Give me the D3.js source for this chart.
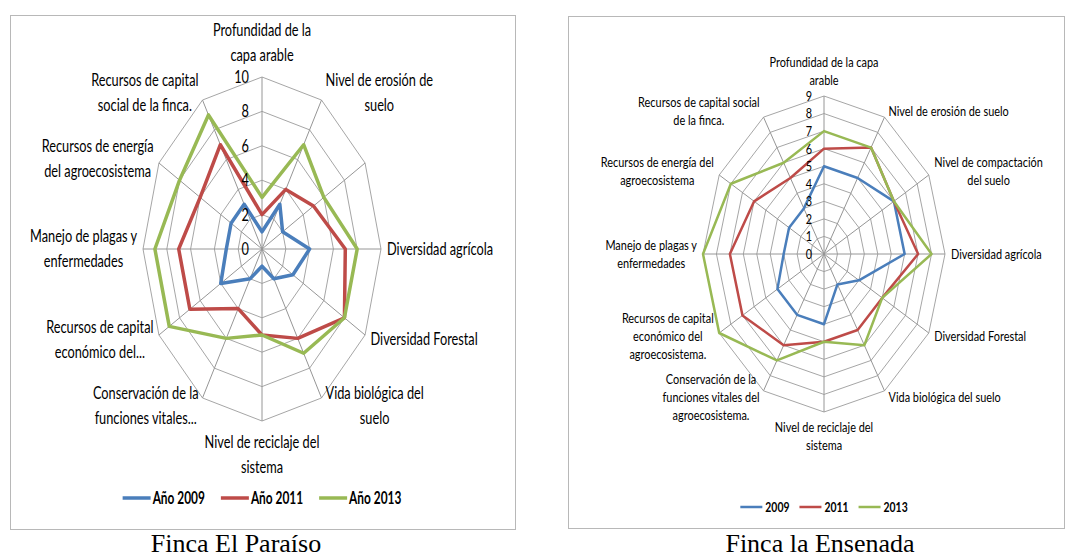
<!DOCTYPE html>
<html>
<head>
<meta charset="utf-8">
<script src="https://cdn.jsdelivr.net/npm/d3@7"></script>
<style>
  body { margin: 0; background: #fff; }
  svg { display: block; }
</style>
</head>
<body>
<script>
var W = 1067, H = 557;

// Finca El Paraíso (3rd axis has no label in the original chart)
var labelsParaiso = [
  "Profundidad de la\ncapa arable", "Nivel de erosión de\nsuelo", "",
  "Diversidad agrícola", "Diversidad Forestal", "Vida biológica del\nsuelo",
  "Nivel de reciclaje del\nsistema", "Conservación de la\nfunciones vitales...",
  "Recursos de capital\neconómico del...", "Manejo de plagas y\nenfermedades",
  "Recursos de energía\ndel agroecosistema", "Recursos de capital\nsocial de la finca."
];
var paraiso2009 = [1, 3, 2, 4, 3, 2, 1, 2, 4, 3, 3, 3];
var paraiso2011 = [2, 4, 5, 7, 8, 6, 5, 4, 7, 7, 6, 7];
var paraiso2013 = [3, 7, 6, 8, 8, 7, 5, 6, 9, 9, 8, 9];
var ticksParaiso = [0, 2, 4, 6, 8, 10];
var legendParaiso = ["Año 2009", "Año 2011", "Año 2013"];

// Finca la Ensenada
var labelsEnsenada = [
  "Profundidad de la capa\narable", "Nivel de erosión de suelo", "Nivel de compactación\ndel suelo",
  "Diversidad agrícola", "Diversidad Forestal", "Vida biológica del suelo",
  "Nivel de reciclaje del\nsistema", "Conservación de la\nfunciones vitales del\nagroecosistema.",
  "Recursos de capital\neconómico del\nagroecosistema.", "Manejo de plagas y\nenfermedades",
  "Recursos de energía del\nagroecosistema", "Recursos de capital social\nde la finca."
];
var ensenada2009 = [5, 5, 6, 6, 3, 2, 4, 4, 4, 3, 3, 3];
var ensenada2011 = [6, 7, 6, 7, 5, 5, 5, 6, 7, 7, 6, 5];
var ensenada2013 = [7, 7, 6, 8, 5, 6, 5, 7, 9, 9, 8, 6];
var ticksEnsenada = [0, 1, 2, 3, 4, 5, 6, 7, 8, 9];
var legendEnsenada = ["2009", "2011", "2013"];

var colors = ["#4a7ebb", "#be4b48", "#98b954"];
var font = "Lato, 'Liberation Sans', sans-serif";

var svg = d3.select("body").append("svg")
    .attr("width", W)
    .attr("height", H)
    .style("font-family", font);

// squeezed text, the original picture is stretched vertically
function txt(g, str, x, y, size, sx, anchor, weight) {
    return g.append("text")
        .attr("transform", "translate(" + x + "," + y + ") scale(" + sx + ",1)")
        .attr("text-anchor", anchor)
        .attr("dy", "0.35em")
        .style("font-size", size + "px")
        .style("font-weight", weight || "normal")
        .attr("fill", "#000")
        .text(str);
}

function radar(o) {
    var g = svg.append("g");
    var n = o.labels.length;

    g.append("rect")
        .attr("x", o.box[0] + 0.5).attr("y", o.box[1] + 0.5)
        .attr("width", o.box[2]).attr("height", o.box[3])
        .attr("fill", "none").attr("stroke", "#b8b8b8");

    var angle = d3.scaleLinear().domain([0, n]).range([0, 2 * Math.PI]);
    var rX = d3.scaleLinear().domain([0, o.max]).range([0, o.rx]);
    var rY = d3.scaleLinear().domain([0, o.max]).range([0, o.ry]);
    function px(i, v) { return o.cx + rX(v) * Math.sin(angle(i)); }
    function py(i, v) { return o.cy - rY(v) * Math.cos(angle(i)); }
    var idx = d3.range(n);

    // rings
    o.rings.forEach(function (r) {
        var ring = d3.line()
            .x(function (i) { return px(i, r); })
            .y(function (i) { return py(i, r); })
            .curve(d3.curveLinearClosed);
        g.append("path").attr("d", ring(idx))
            .attr("fill", "none").attr("stroke", "#a6a6a6").attr("stroke-width", 1);
    });

    // spokes
    g.selectAll(".spoke").data(idx).enter().append("line")
        .attr("x1", o.cx).attr("y1", o.cy)
        .attr("x2", function (i) { return px(i, o.max); })
        .attr("y2", function (i) { return py(i, o.max); })
        .attr("stroke", "#969696").attr("stroke-width", 1);

    // series
    o.series.forEach(function (vals, k) {
        var line = d3.line()
            .x(function (v, i) { return px(i, v); })
            .y(function (v, i) { return py(i, v); })
            .curve(d3.curveLinearClosed);
        g.append("path").attr("d", line(vals))
            .attr("fill", "none")
            .attr("stroke", colors[k])
            .attr("stroke-width", o.lineW)
            .attr("stroke-linejoin", "round");
    });

    // tick labels on the first axis
    o.ticks.forEach(function (t) {
        txt(g, t, o.cx - o.tickGap, py(0, t), o.size, o.sx, "end");
    });

    // category labels
    o.labels.forEach(function (lab, i) {
        if (!lab) return;
        var lines = lab.split("\n");
        var a = angle(i), s = Math.sin(a), c = Math.cos(a);
        var vx = px(i, o.max), vy = py(i, o.max);
        var texts = lines.map(function (l) { return txt(g, l, 0, 0, o.size, o.sx, "middle"); });
        var w = d3.max(texts, function (t) { return t.node().getComputedTextLength() * o.sx; });
        var h = lines.length * o.lh;
        var gap = 2 + 4 * Math.abs(s);
        var mx, my;
        if (s > 0.01) mx = vx + gap + w / 2;
        else if (s < -0.01) mx = vx - gap - w / 2;
        else mx = vx;
        if (Math.abs(s) < 0.01) {
            my = c > 0 ? vy - o.gapV - h / 2 : vy + o.gapV + h / 2;
        } else {
            my = vy - c * o.shiftY;
        }
        texts.forEach(function (t, j) {
            var y = my + (j - (lines.length - 1) / 2) * o.lh;
            t.attr("transform", "translate(" + mx + "," + y + ") scale(" + o.sx + ",1)");
        });
    });

    // legend
    var lg = g.append("g");
    var items = o.legend.map(function (name, k) {
        var t = txt(lg, name, 0, o.legendY, o.legendSize, o.legendSx, "start", "bold");
        return { t: t, k: k, w: t.node().getComputedTextLength() * o.legendSx };
    });
    var total = d3.sum(items, function (d) { return o.swatch + o.swGap + d.w; }) + o.itemGap * (items.length - 1);
    var x = o.cx - total / 2;
    items.forEach(function (d) {
        lg.append("line")
            .attr("x1", x).attr("x2", x + o.swatch)
            .attr("y1", o.legendY).attr("y2", o.legendY)
            .attr("stroke", colors[d.k]).attr("stroke-width", o.lineW);
        d.t.attr("transform", "translate(" + (x + o.swatch + o.swGap) + "," + o.legendY + ") scale(" + o.legendSx + ",1)");
        x += o.swatch + o.swGap + d.w + o.itemGap;
    });

    svg.append("text")
        .attr("x", o.captionX).attr("y", 552)
        .attr("text-anchor", "middle")
        .style("font-family", "'Liberation Serif', 'Times New Roman', serif")
        .style("font-size", "26px")
        .text(o.caption);
}

radar({
    box: [10, 15, 505, 514],
    cx: 262, cy: 249, rx: 119, ry: 172, max: 10,
    rings: [2, 4, 6, 8, 10], ticks: ticksParaiso,
    labels: labelsParaiso,
    series: [paraiso2009, paraiso2011, paraiso2013],
    legend: legendParaiso,
    size: 17, sx: 0.75, lh: 25, gapV: 9, shiftY: 9, tickGap: 13,
    lineW: 3.5, legendY: 498, legendSize: 17, legendSx: 0.7,
    swatch: 28, swGap: 2, itemGap: 16,
    caption: "Finca El Paraíso", captionX: 236
});

radar({
    box: [568, 16, 496, 512],
    cx: 824, cy: 254, rx: 121, ry: 158, max: 9,
    rings: [1, 2, 3, 4, 5, 6, 7, 8, 9], ticks: ticksEnsenada,
    labels: labelsEnsenada,
    series: [ensenada2009, ensenada2011, ensenada2013],
    legend: legendEnsenada,
    size: 14, sx: 0.78, lh: 18, gapV: 6.5, shiftY: 7, tickGap: 12,
    lineW: 2.5, legendY: 507, legendSize: 13, legendSx: 0.8,
    swatch: 22, swGap: 3, itemGap: 10,
    caption: "Finca la Ensenada", captionX: 820
});
</script>
</body>
</html>
